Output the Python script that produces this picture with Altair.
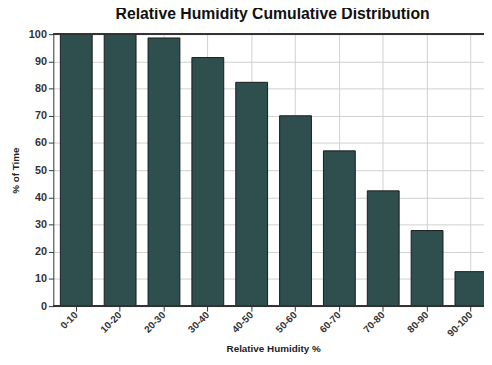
import altair as alt
import pandas as pd

categories = ["0-10", "10-20", "20-30", "30-40", "40-50", "50-60", "60-70", "70-80", "80-90", "90-100"]
values = [100, 100, 98.6, 91.4, 82.3, 70.0, 57.1, 42.4, 27.8, 12.7]

df = pd.DataFrame({"range": categories, "pct": values})

bars = alt.Chart(df).mark_bar(
    color="#2f4f4f", stroke="#1a1a1a", strokeWidth=1, clip=True
).encode(
    x=alt.X("range:N", sort=categories,
            scale=alt.Scale(paddingInner=0.274, paddingOuter=0.16, range=[0, 447]),
            axis=alt.Axis(title="Relative Humidity %", labelAngle=-45, labelAlign="right",
                          labelBaseline="middle", labelFontWeight="bold", labelFontSize=10,
                          labelColor="#333333", titleFontWeight="bold", titleFontSize=10,
                          titleColor="#222222", tickColor="#333333", domain=False,
                          gridColor="#d0d0d0", grid=True, titlePadding=5,
                          labelPadding=2, titleX=223)),
    y=alt.Y("pct:Q", scale=alt.Scale(domain=[0, 100], nice=False),
            axis=alt.Axis(title="% of Time", values=list(range(0, 101, 10)),
                          labelFontWeight="bold", labelFontSize=11, labelColor="#333333",
                          titleFontWeight="bold", titleFontSize=10, titleColor="#222222",
                          tickColor="#333333", domainColor="#333333", gridColor="#d0d0d0",
                          titlePadding=8)),
)

top_line = alt.Chart(df).mark_rule(color="#333333", strokeWidth=1).encode(
    x=alt.value(0), x2=alt.value(437), y=alt.value(0)
)
bottom_line = alt.Chart(df).mark_rule(color="#333333", strokeWidth=1).encode(
    x=alt.value(0), x2=alt.value(437), y=alt.value(276)
)

chart = alt.layer(bars, top_line, bottom_line).properties(
    width=437, height=276,
    title=alt.TitleParams("Relative Humidity Cumulative Distribution", fontSize=16,
                          fontWeight="bold", font="Liberation Sans", color="#111111",
                          anchor="middle", frame="group", dx=4, offset=6),
    autosize=alt.AutoSizeParams(type="none"),
    padding={"left": 46, "top": 24, "right": 0, "bottom": 48},
).configure_view(
    stroke=None
).configure_axis(
    labelFont="Liberation Sans", titleFont="Liberation Sans"
)

chart.save("out.html", embed_options={"renderer": "svg", "actions": False})
